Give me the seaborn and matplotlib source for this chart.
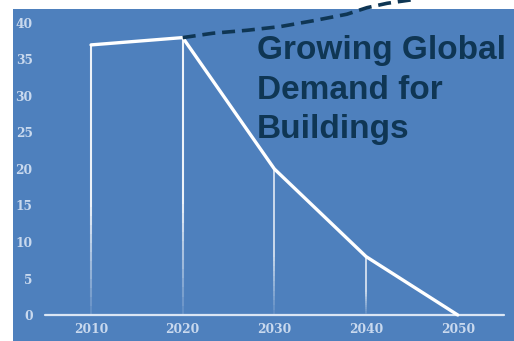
import numpy as np
import pandas as pd
import matplotlib
matplotlib.use("Agg")
import matplotlib.pyplot as plt
from matplotlib.patches import Rectangle
import seaborn as sns

# Emissions pathway (values per decade)
years = [2010, 2020, 2030, 2040, 2050]
values = [37, 38, 20, 8, 0]

# Demand trajectory continuing upward after 2020
demand_years = [2020, 2023.3, 2027.0, 2030.6, 2034.2, 2037.9, 2040.1, 2042.3, 2045.1]
demand_values = [38.0, 38.6, 39.0, 39.5, 40.3, 41.2, 42.1, 42.7, 43.2]

x_ticks = [2010, 2020, 2030, 2040, 2050]
y_ticks = [0, 5, 10, 15, 20, 25, 30, 35, 40]
headline = "Growing Global\nDemand for\nBuildings"

BLUE = "#4e80bd"
PALE = "#c9d9ee"
NAVY = "#0f3654"

sns.set_theme(style="white")
plt.rcParams["font.family"] = ["DejaVu Sans"]

W, H = 514, 341
fig = plt.figure(figsize=(W / 100, H / 100), dpi=100, facecolor="white")
# blue panel behind the chart
fig.patches.append(Rectangle((13 / W, 0), 1 - 13 / W, 1 - 9 / H,
                             transform=fig.transFigure, facecolor=BLUE,
                             edgecolor="none", zorder=-10))

ax_left, ax_right = 45.2 / W, 503.6 / W
ax_bottom, ax_top = (H - 315) / H, (H - 23) / H
ax = fig.add_axes([ax_left, ax_bottom, ax_right - ax_left, ax_top - ax_bottom])
ax.set_zorder(1)
ax.set_facecolor("none")
ax.set_xlim(2005, 2055)
ax.set_ylim(0, 40)
for s in ax.spines.values():
    s.set_visible(False)

df = pd.DataFrame({"year": years, "value": values})

# drop lines from each point to the baseline, fading toward the bottom
n_seg = 30
for i, (x, y) in enumerate(zip(years[:-1], values[:-1])):
    lw = 1.5 if i < 2 else 1.1
    edges = np.linspace(0, y, n_seg + 1)
    for k in range(n_seg):
        frac = (k + 0.5) / n_seg
        a = min(1.0, 0.1 + frac * 2.2)
        ax.plot([x, x], [edges[k], edges[k + 1]], color="white", lw=lw,
                alpha=a * 0.9, solid_capstyle="butt", zorder=2)

# baseline
ax.plot([2005, 2055], [0, 0], color="#dbe6f4", lw=1.6, zorder=2,
        clip_on=False)

sns.lineplot(data=df, x="year", y="value", ax=ax, color="white", lw=2.4,
             zorder=4, clip_on=False)

ddf = pd.DataFrame({"year": demand_years, "value": demand_values})
sns.lineplot(data=ddf, x="year", y="value", ax=ax, color=NAVY, lw=2.6,
             zorder=5, clip_on=False)
ax.lines[-1].set_dashes([3.6, 1.9])

ax.set_xticks(x_ticks)
ax.set_yticks(y_ticks)
ax.set_xticklabels([f"{t}" for t in x_ticks])
ax.set_yticklabels([f"{t}" for t in y_ticks])
ax.set_xlabel("")
ax.set_ylabel("")
ax.tick_params(axis="both", length=0, colors=PALE)
ax.tick_params(axis="x", pad=6)
ax.tick_params(axis="y", pad=9)
for lab in ax.get_xticklabels() + ax.get_yticklabels():
    lab.set_fontfamily("DejaVu Serif")
    lab.set_fontweight("bold")
    lab.set_fontsize(8.8)
    lab.set_color(PALE)
ax.grid(False)

fig.text(257 / W, 1 - 35 / H, headline, ha="left", va="top",
         fontsize=24, fontweight="bold", color=NAVY,
         family=["Liberation Sans", "DejaVu Sans"], linespacing=1.36,
         zorder=6)

fig.savefig("out.png", dpi=100, facecolor="white")
